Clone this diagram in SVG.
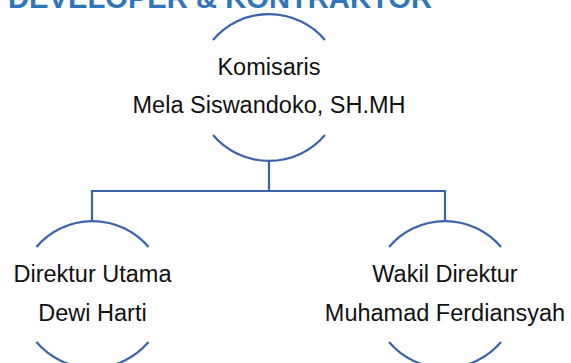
<svg xmlns="http://www.w3.org/2000/svg" width="571" height="363" viewBox="0 0 571 363">
  <style>
    .ring { fill: none; stroke: #3A63AB; stroke-width: 2.2; }
    .conn { fill: none; stroke: #3A63AB; stroke-width: 2.2; }
    .lbl { font-family: "Liberation Sans", Arial, sans-serif; font-size: 23.5px; fill: #111111; text-anchor: middle; }
    .title { font-family: "Liberation Sans", Arial, sans-serif; font-size: 29px; font-weight: bold; fill: #2F75B8; }
  </style>
  <rect width="571" height="363" fill="#ffffff"/>
  <text class="title" x="8" y="7.5" textLength="424" lengthAdjust="spacingAndGlyphs">DEVELOPER &amp; KONTRAKTOR</text>

  <g id="connectors">
    <path class="conn" d="M269 161 V191 M92 221 V191 H445 V221"/>
  </g>

  <g id="komisaris">
    <path class="ring" d="M213 40 A73.5 73.5 0 0 1 325 40"/>
    <path class="ring" d="M213 135 A73.5 73.5 0 0 0 325 135"/>
    <text class="lbl" x="269" y="75">Komisaris</text>
    <text class="lbl" x="269" y="113">Mela Siswandoko, SH.MH</text>
  </g>

  <g id="direktur-utama">
    <path class="ring" d="M36.5 247 A73.5 73.5 0 0 1 148.5 247"/>
    <path class="ring" d="M36.5 342 A73.5 73.5 0 0 0 148.5 342"/>
    <text class="lbl" x="92.5" y="282">Direktur Utama</text>
    <text class="lbl" x="92.5" y="321">Dewi Harti</text>
  </g>

  <g id="wakil-direktur">
    <path class="ring" d="M389 247 A73.5 73.5 0 0 1 501 247"/>
    <path class="ring" d="M389 342 A73.5 73.5 0 0 0 501 342"/>
    <text class="lbl" x="445" y="282">Wakil Direktur</text>
    <text class="lbl" x="445" y="321">Muhamad Ferdiansyah</text>
  </g>
</svg>
